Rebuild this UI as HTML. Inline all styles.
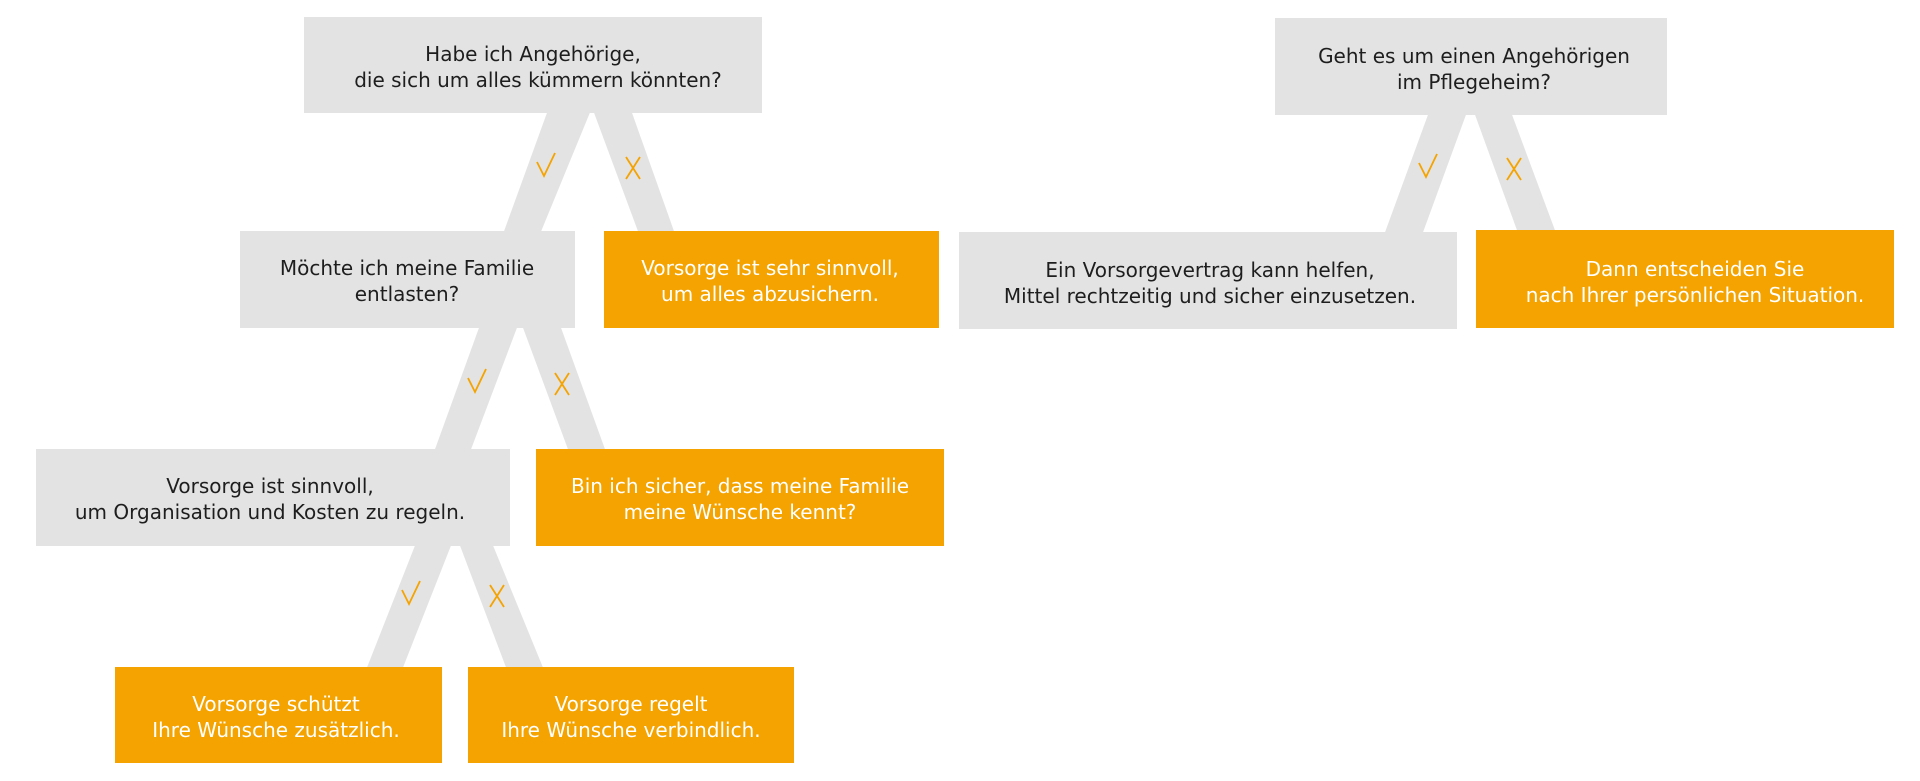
<!DOCTYPE html>
<html><head><meta charset="utf-8"><style>
html,body{margin:0;padding:0;background:#fff;}
svg{display:block}
text{font-family:"DejaVu Sans","Liberation Sans",sans-serif;font-size:20px;text-anchor:middle}
.g{fill:#e3e3e3}.o{fill:#f4a300}
.tg{fill:#1e1e1e}.to{fill:#fff}
.mk{stroke:#f4a300;stroke-width:1.8;fill:none}
</style></head><body>
<svg width="1920" height="781" viewBox="0 0 1920 781" xmlns="http://www.w3.org/2000/svg">
<polygon class="g" points="548,110 591,110 540,234 503,234"/>
<polygon class="g" points="593,110 631,110 675,234 639,234"/>
<polygon class="g" points="480,325 518,325 470,452 434,452"/>
<polygon class="g" points="522,325 560,325 606,452 569,452"/>
<polygon class="g" points="416,543 452,543 402,670 366,670"/>
<polygon class="g" points="459,543 492,543 544,670 507,670"/>
<polygon class="g" points="1429,112 1467,112 1422,235 1384,235"/>
<polygon class="g" points="1474,112 1511,112 1556,233 1518,233"/>
<g class="mk">
<path d="M537,162 L544,176 L555,153"/>
<path d="M626,157 L640,179 M640,157 L626,179"/>
<path d="M468,378 L475,392 L486,369"/>
<path d="M555,373 L569,395 M569,373 L555,395"/>
<path d="M402,590 L409,604 L420,581"/>
<path d="M490,585 L504,607 M504,585 L490,607"/>
<path d="M1419,163 L1426,177 L1437,154"/>
<path d="M1507,158 L1521,180 M1521,158 L1507,180"/>
</g>
<rect class="g" x="304" y="17" width="458" height="96"/>
<text class="tg" x="533" y="61">Habe ich Angehörige,</text>
<text class="tg" x="538" y="87">die sich um alles kümmern könnten?</text>

<rect class="g" x="240" y="231" width="335" height="97"/>
<text class="tg" x="407" y="275">Möchte ich meine Familie</text>
<text class="tg" x="407" y="301">entlasten?</text>

<rect class="o" x="604" y="231" width="335" height="97"/>
<text class="to" x="770" y="275">Vorsorge ist sehr sinnvoll,</text>
<text class="to" x="770" y="301">um alles abzusichern.</text>

<rect class="g" x="36" y="449" width="474" height="97"/>
<text class="tg" x="270" y="493">Vorsorge ist sinnvoll,</text>
<text class="tg" x="270" y="519">um Organisation und Kosten zu regeln.</text>

<rect class="o" x="536" y="449" width="408" height="97"/>
<text class="to" x="740" y="493">Bin ich sicher, dass meine Familie</text>
<text class="to" x="740" y="519">meine Wünsche kennt?</text>

<rect class="o" x="115" y="667" width="327" height="96"/>
<text class="to" x="276" y="711">Vorsorge schützt</text>
<text class="to" x="276" y="737">Ihre Wünsche zusätzlich.</text>

<rect class="o" x="468" y="667" width="326" height="96"/>
<text class="to" x="631" y="711">Vorsorge regelt</text>
<text class="to" x="631" y="737">Ihre Wünsche verbindlich.</text>

<rect class="g" x="1275" y="18" width="392" height="97"/>
<text class="tg" x="1474" y="63">Geht es um einen Angehörigen</text>
<text class="tg" x="1474" y="89">im Pflegeheim?</text>

<rect class="g" x="959" y="232" width="498" height="97"/>
<text class="tg" x="1210" y="277">Ein Vorsorgevertrag kann helfen,</text>
<text class="tg" x="1210" y="303">Mittel rechtzeitig und sicher einzusetzen.</text>

<rect class="o" x="1476" y="230" width="418" height="98"/>
<text class="to" x="1695" y="276">Dann entscheiden Sie</text>
<text class="to" x="1695" y="302">nach Ihrer persönlichen Situation.</text>
</svg>
</body></html>
